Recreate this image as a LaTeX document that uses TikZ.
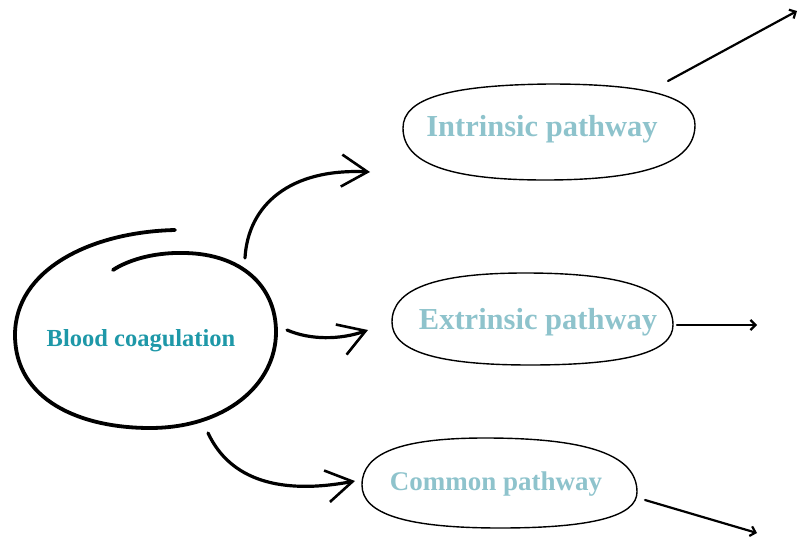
\documentclass[tikz,border=0pt]{standalone}
\usepackage{fontspec}
\setmainfont{Liberation Serif}
\usetikzlibrary{arrows.meta,calc}
\definecolor{tealtxt}{HTML}{1E98A8}
\definecolor{paletxt}{HTML}{8EC3CC}
\begin{document}
\begin{tikzpicture}[x=1pt,y=-1pt,line cap=round,line join=round,
  mainlbl/.style={font=\bfseries\fontsize{24.5}{26}\selectfont,text=tealtxt,inner sep=0pt},
  pathlbl/.style={font=\bfseries\fontsize{#1}{#1}\selectfont,text=paletxt,inner sep=0pt},
  outline/.style={draw=black,line width=1.4pt},
  spiral/.style={draw=black,line width=3.8pt},
  curvearrow/.style={draw=black,line width=3.2pt,-{Straight Barb[length=26pt,width=32pt,line width=2.6pt]}},
  outarrow/.style={draw=black,line width=2.2pt,-{Straight Barb[length=5pt,width=10pt,line width=2.2pt]}}]
\useasboundingbox (0,0) rectangle (798,538);
% nodes
\node[mainlbl] (main) at (141,341) {Blood coagulation};
\node[pathlbl=30.5] (intr) at (542,129) {Intrinsic pathway};
\node[pathlbl=30.5] (extr) at (538,322) {Extrinsic pathway};
\node[pathlbl=27] (comm) at (496,484) {Common pathway};
% main spiral outline
\draw[spiral] (175,230) .. controls (90,232) and (15,270) .. (15,335)
  .. controls (15,400) and (80,428) .. (150,428)
  .. controls (225,428) and (276,385) .. (276,332)
  .. controls (276,285) and (240,254) .. (185,253)
  .. controls (150,252) and (125,262) .. (113,270);
% pathway outlines
\draw[outline] (403,128) .. controls (403,98) and (450,85) .. (550,84)
  .. controls (649,84) and (695,97) .. (695,125)
  .. controls (695,162) and (647,180) .. (545,180)
  .. controls (448,180) and (403,163) .. cycle;
\draw[outline] (392,322) .. controls (392,289) and (435,273) .. (525,273)
  .. controls (626,273) and (673,290) .. (673,325)
  .. controls (673,352) and (627,365) .. (530,365)
  .. controls (436,365) and (392,351) .. cycle;
\draw[outline] (362,485) .. controls (362,453) and (401,438) .. (485,438)
  .. controls (588,438) and (637,455) .. (637,492)
  .. controls (637,516) and (593,528) .. (500,528)
  .. controls (406,528) and (362,514) .. cycle;
% connectors
\draw[curvearrow] ([shift={(104,-83)}]main.center) .. controls (248,205) and (290,168) .. ([shift={(-172,43)}]intr.center);
\draw[curvearrow] ([shift={(146,-11)}]main.center) .. controls (310,340) and (340,340) .. ([shift={(-170,8)}]extr.center);
\draw[curvearrow] ([shift={(67,92)}]main.center) .. controls (230,480) and (280,495) .. ([shift={(-141,-3)}]comm.center);
\draw[outarrow] ([shift={(126,-48)}]intr.center) -- ([shift={(255,-118)}]intr.center);
\draw[outarrow] ([shift={(139,3)}]extr.center) -- ([shift={(219,3)}]extr.center);
\draw[outarrow] ([shift={(149,16)}]comm.center) -- ([shift={(261,49)}]comm.center);
\end{tikzpicture}
\end{document}
